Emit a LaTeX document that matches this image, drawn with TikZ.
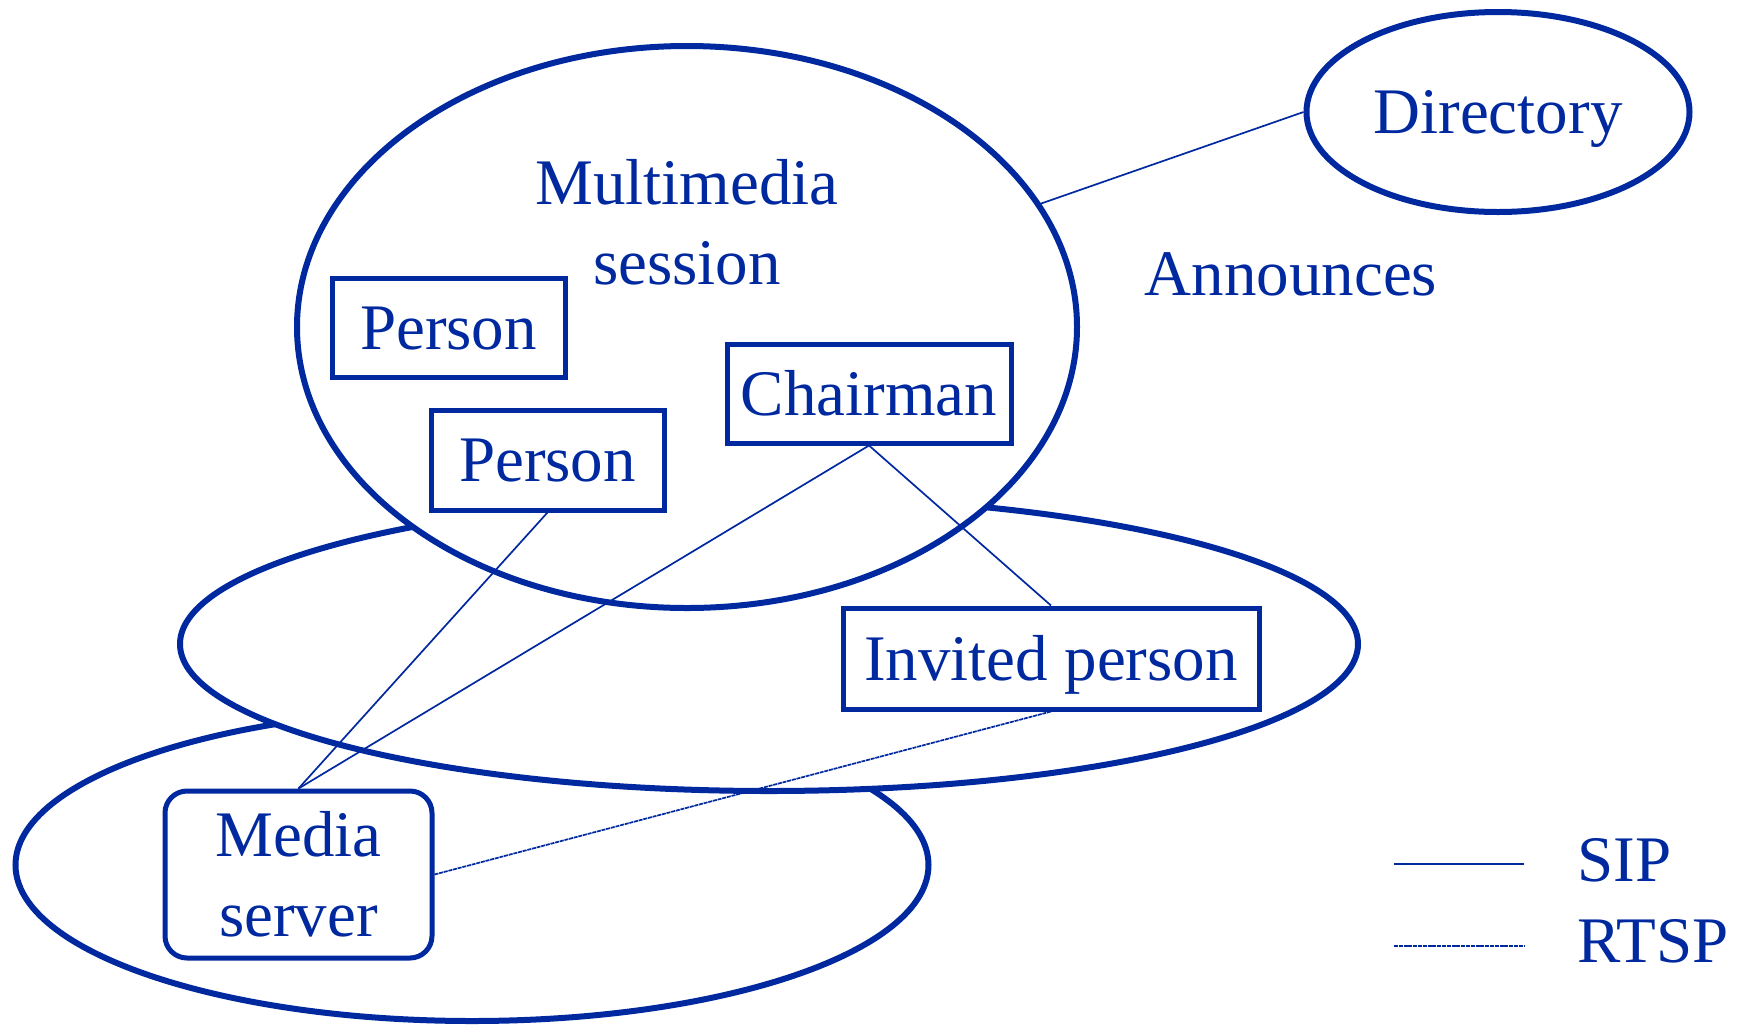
\documentclass[tikz,border=0pt]{standalone}
\usepackage{fontspec}
\setmainfont{Liberation Serif}
\usetikzlibrary{shapes,positioning,calc}
\definecolor{sessblue}{RGB}{0,41,160}

\begin{document}
\begin{tikzpicture}[x=0.5pt,y=-0.5pt, font=\fontsize{32.5}{40}\selectfont,
	every node/.style={text=sessblue},
	session/.style={ellipse,draw=sessblue,line width=3pt,fill=white,inner sep=0pt},
	party/.style={rectangle,draw=sessblue,line width=2.5pt,inner sep=0pt,text height=21.5pt,text depth=0pt},
	sipline/.style={draw=sessblue,line width=0.85pt},
	rtspline/.style={draw=sessblue,line width=0.85pt,dash pattern=on 2pt off 0.4pt}]
	\useasboundingbox (0,0) rectangle (1746,1024);
	% the three overlapping sessions, back to front
	\node [session] (lowsess) at (472,865) [minimum width=456.5pt,minimum height=156pt] {};
	\node [session] (midsess) at (769,644) [minimum width=589pt,minimum height=147pt] {};
	\node [session] (topsess) at (687,327) [minimum width=390pt,minimum height=281pt] {};
	\node [session,fill=none,text height=21.5pt,text depth=0pt] (dir) at (1498,112) [minimum width=191.5pt,minimum height=100pt] {Directory};
	\node [align=center] (mmlabel) at (687,222) {Multimedia\\session};
	\node (announce) at (1291,274) {Announces};
	\node [party,minimum width=116.5pt,minimum height=49.5pt] (person1) at (448.5,327.5) {Person};
	\node [party,minimum width=116.5pt,minimum height=50pt] (person2) at (547.5,460) {Person};
	\node [party,minimum width=142pt,minimum height=49.5pt] (chair) at (869,393.5) {Chairman};
	\node [party,minimum width=208pt,minimum height=50.5pt] (invited) at (1051,658.5) {Invited person};
	\node [party,rounded corners=11pt,align=center,text height=,text depth=,minimum width=133.5pt,minimum height=83.5pt] (media) at (298.5,874.5) {Media\\server};
	\draw [sipline] (dir.west) -- (topsess);
	\draw [sipline] (person2.south) -- (media.north);
	\draw [sipline] (chair.south) -- (media.north);
	\draw [sipline] (chair.south) -- (invited.north);
	\draw [rtspline] (media.east) -- (invited.south);
	% legend
	\coordinate (sipa) at (1394,864);
	\coordinate (sipb) at (1524,864);
	\coordinate (rtspa) at (1394,946);
	\coordinate (rtspb) at (1524,946);
	\node [anchor=west,inner sep=0pt] (siplabel) at (1577,860) {SIP};
	\node [anchor=west,inner sep=0pt] (rtsplabel) at (1577,941) {RTSP};
	\draw [sipline] (sipa) -- (sipb);
	\draw [rtspline] (rtspa) -- (rtspb);
\end{tikzpicture}
\end{document}
